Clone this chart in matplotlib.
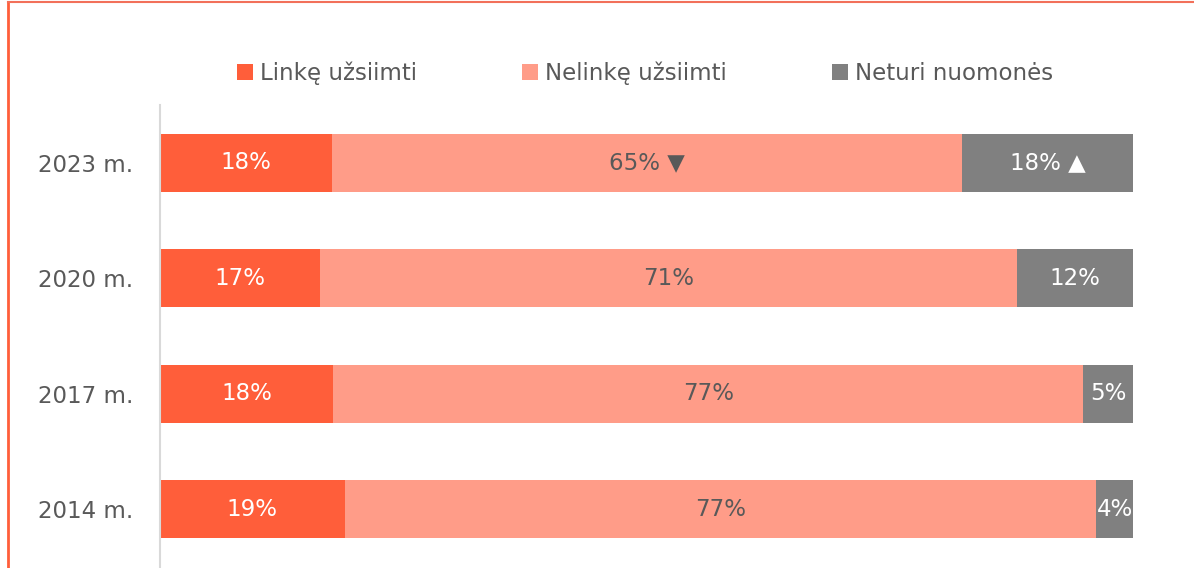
import matplotlib.pyplot as plt
from matplotlib.lines import Line2D

years = ['2014 m.', '2017 m.', '2020 m.', '2023 m.']
series = ['Linkę užsiimti', 'Nelinkę užsiimti', 'Neturi nuomonės']
colors = ['#FF5E3A', '#FF9C88', '#808080']

# bar widths (percent of the row)
linke = [19.0, 17.8, 16.4, 17.7]
nelinke = [77.2, 77.1, 71.7, 64.7]
neturi = [3.8, 5.1, 11.9, 17.6]

# printed labels
linke_lbl = ['19%', '18%', '17%', '18%']
nelinke_lbl = ['77%', '77%', '71%', '65% ▼']
neturi_lbl = ['4%', '5%', '12%', '18% ▲']
label_colors = ['white', '#595959', 'white']

plt.rcParams['font.family'] = ['DejaVu Sans']
fig = plt.figure(figsize=(11.94, 5.68), dpi=100)
ax = fig.add_axes([160 / 1194, 1 / 568, 973 / 1194, 462 / 568])

ypos = list(range(len(years)))
left = [0] * len(years)
for vals, lbls, col, lcol, name in zip([linke, nelinke, neturi],
                                       [linke_lbl, nelinke_lbl, neturi_lbl],
                                       colors, label_colors, series):
    bars = ax.barh(ypos, vals, left=left, height=0.5, color=col, label=name)
    ax.bar_label(bars, labels=lbls, label_type='center', color=lcol, fontsize=16.5)
    left = [l + v for l, v in zip(left, vals)]

ax.set_xlim(0, 100)
ax.set_ylim(-0.5, len(years) - 0.5)
ax.set_yticks(ypos)
ax.set_yticklabels(years, fontsize=16.5, color='#595959')
ax.tick_params(axis='y', length=0, pad=19)
ax.set_xticks([])
for s in ['top', 'right', 'bottom']:
    ax.spines[s].set_visible(False)
ax.spines['left'].set_color('#D9D9D9')
ax.spines['left'].set_linewidth(1.5)

handles, labels = ax.get_legend_handles_labels()
fig.legend(handles, labels, loc='center', bbox_to_anchor=(645 / 1194, 1 - 73 / 568),
           ncol=3, frameon=False, fontsize=16.5, handlelength=0.7, handleheight=0.7,
           handletextpad=0.3, columnspacing=4.6, labelcolor='#595959')

# frame lines on the left and top
fig.add_artist(Line2D([8 / 1194, 8 / 1194], [0, 1 - 1.5 / 568], color='#FF5E3A', lw=2))
fig.add_artist(Line2D([8 / 1194, 1], [1 - 1.5 / 568, 1 - 1.5 / 568], color='#F2705A', lw=1.5))

fig.savefig('out.png', dpi=100)
